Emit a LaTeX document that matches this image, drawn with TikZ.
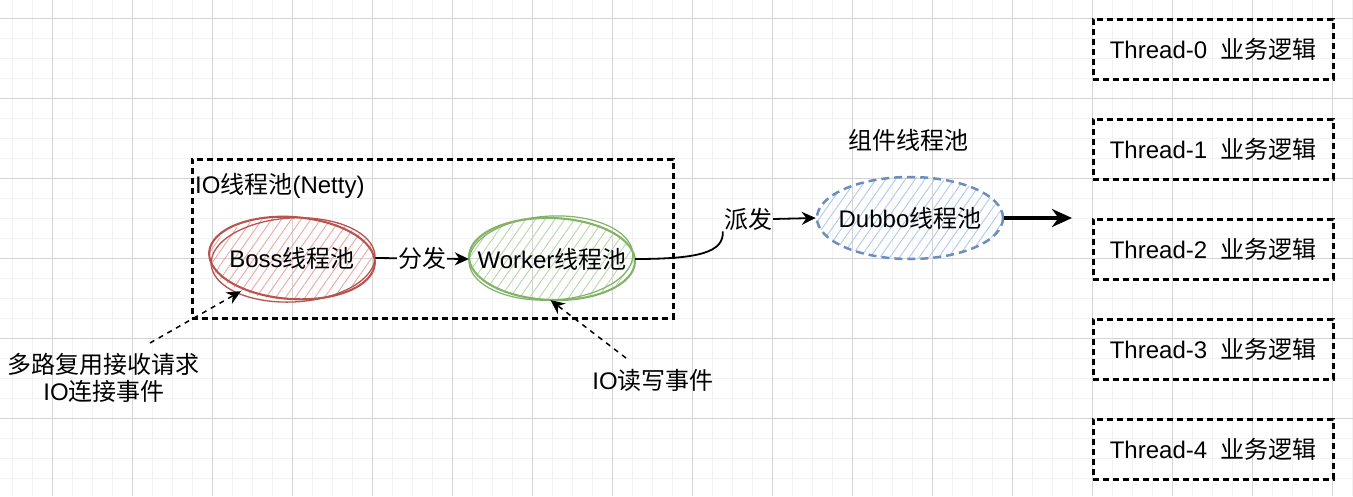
\documentclass[tikz,border=0pt]{standalone}
\usepackage{fontspec}
\setmainfont{Liberation Sans}
\newfontfamily\cjk{Noto Sans CJK SC}
\usetikzlibrary{arrows.meta,patterns.meta,shapes.geometric,calc}
\definecolor{gridminor}{HTML}{F2F2F2}
\definecolor{gridmajor}{HTML}{D4D4D4}
\definecolor{redS}{HTML}{B85450}
\definecolor{redH}{HTML}{EFA9A5}
\definecolor{greenS}{HTML}{82B366}
\definecolor{greenH}{HTML}{B9D8AA}
\definecolor{blueS}{HTML}{6C8EBF}
\definecolor{blueH}{HTML}{AFCBF0}
\tikzset{
  txt/.style={font=\fontsize{24}{27.5}\selectfont, inner sep=1pt},
  iobox/.style={draw=black, line width=3pt, dash pattern=on 6pt off 4pt, minimum width=481pt, minimum height=159pt, inner sep=0pt},
  threadbox/.style={draw=black, line width=3pt, dash pattern=on 6pt off 4pt, minimum width=240pt, minimum height=60pt, inner sep=0pt, font=\fontsize{24}{27.5}\selectfont},
  pool/.style={ellipse, inner sep=0pt},
  hatch/.style={pattern={Lines[angle=55,distance=8pt,line width=0.9pt]}, pattern color=#1},
  edgelabel/.style={txt, fill=white, inner sep=1pt},
  conn/.style={line width=1.8pt, -{Stealth[length=14pt,width=13pt]}},
  hint/.style={line width=1.5pt, dash pattern=on 5pt off 5pt, -{Stealth[length=14pt,width=13pt]}},
}
\begin{document}
\begin{tikzpicture}[x=1pt,y=-1pt]
\useasboundingbox (0,0) rectangle (1353,496);
\fill[white] (0,0) rectangle (1353,496);
\foreach \x in {12,32,...,1352} \draw[gridminor,line width=1pt] (\x,0) -- (\x,496);
\foreach \y in {18,38,...,496} \draw[gridminor,line width=1pt] (0,\y) -- (1353,\y);
\foreach \x in {52,132,...,1352} \draw[gridmajor,line width=1pt] (\x,0) -- (\x,496);
\foreach \y in {18,98,...,496} \draw[gridmajor,line width=1pt] (0,\y) -- (1353,\y);

% IO thread pool box
\node[iobox] (io) at (432.5,238.5) {};
\node[txt, anchor=west] (iolabel) at (194,186) {IO{\cjk 线程池}(Netty)};

% Boss pool
\node[pool, minimum width=166pt, minimum height=83pt, hatch=redH,
      label={[txt]center:Boss{\cjk 线程池}}] (boss) at (292,258) {};
\draw[redS, line width=2.1pt, rotate around={-4:(boss.center)}] (boss.center) ellipse [x radius=83pt, y radius=41pt];
\draw[redS, line width=1.3pt, rotate around={3:(boss.center)}] ($(boss.center)+(1,2)$) ellipse [x radius=82pt, y radius=42pt];

% Worker pool
\node[pool, minimum width=166pt, minimum height=82pt, hatch=greenH,
      label={[txt]center:Worker{\cjk 线程池}}] (worker) at (552,259) {};
\draw[greenS, line width=2.1pt, rotate around={-2:(worker.center)}] (worker.center) ellipse [x radius=83pt, y radius=41pt];
\draw[greenS, line width=1.2pt, rotate around={3:(worker.center)}] ($(worker.center)+(-1,-1)$) ellipse [x radius=82pt, y radius=42pt];

% Dubbo pool
\node[pool, minimum width=186pt, minimum height=82pt, hatch=blueH,
      draw=blueS, line width=2.5pt, dash pattern=on 8pt off 5pt,
      label={[txt]center:Dubbo{\cjk 线程池}}] (dubbo) at (910,218) {};
\node[txt] (dubbotitle) at (908,140) {\cjk 组件线程池};

% Thread boxes
\node[threadbox] (t0) at (1213,49) {Thread-0\hspace{13pt}{\cjk 业务逻辑}};
\node[threadbox] (t1) at (1213,149) {Thread-1\hspace{13pt}{\cjk 业务逻辑}};
\node[threadbox] (t2) at (1213,249) {Thread-2\hspace{13pt}{\cjk 业务逻辑}};
\node[threadbox] (t3) at (1213,349) {Thread-3\hspace{13pt}{\cjk 业务逻辑}};
\node[threadbox] (t4) at (1213,449) {Thread-4\hspace{13pt}{\cjk 业务逻辑}};

% Connectors
\draw[conn] (boss.east) -- node[edgelabel] (fenfa) {\cjk 分发} (worker.west);
\node[txt] (paifa) at (748,219) {\cjk 派发};
\draw[line width=1.8pt] (worker.east) .. controls (700,259) and (724,252) .. (paifa.south west);
\draw[conn] (paifa.east) -- (dubbo.west);
\coordinate (outend) at (1072,218);
\draw[line width=3.4pt, -{Stealth[length=20pt,width=18pt]}] (dubbo.east) -- (outend);

% hint labels
\node[txt, align=center] (mux) at (104,378) {{\cjk 多路复用接收请求}\\IO{\cjk 连接事件}};
\node[txt] (rw) at (653,380) {IO{\cjk 读写事件}};
\coordinate (s1) at (150,343);
\coordinate (s2) at (626,358);
\draw[hint] (s1) -- (boss.213);
\draw[hint] (s2) -- (worker.268);
\end{tikzpicture}
\end{document}
